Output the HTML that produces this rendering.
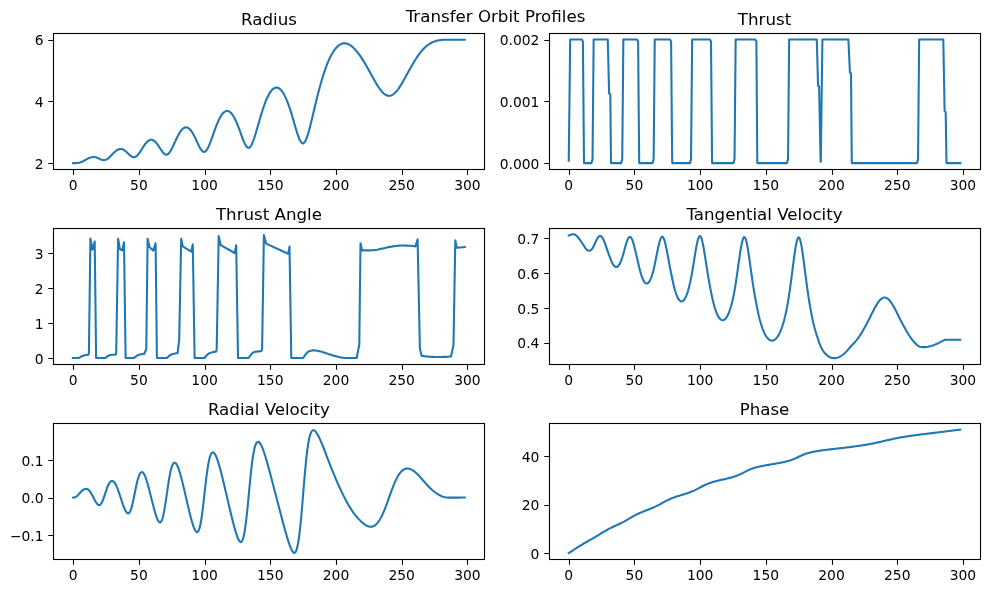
<!DOCTYPE html>
<html lang="en">
<head>
<meta charset="utf-8">
<title>Transfer Orbit Profiles</title>
<style>
html,body{margin:0;padding:0;background:#fff;}
svg{display:block;will-change:transform;}
</style>
</head>
<body>
<svg width="990" height="593" viewBox="0 0 990 593" font-family="'DejaVu Sans', 'Liberation Sans', sans-serif" fill="#000">
<rect width="990" height="593" fill="#fff"/>
<g>
<path d="M73.2 163.1 L74.18 163.1 L75.16 163.09 L76.14 163.05 L77.12 162.98 L78.09 162.85 L79.07 162.65 L80.05 162.39 L81.03 162.07 L82.01 161.68 L82.99 161.23 L83.97 160.75 L84.95 160.23 L85.93 159.7 L86.91 159.17 L87.88 158.66 L88.86 158.18 L89.84 157.76 L90.82 157.41 L91.8 157.16 L92.78 157.02 L93.76 156.99 L94.74 157.08 L95.72 157.28 L96.69 157.58 L97.67 157.96 L98.65 158.41 L99.63 158.87 L100.61 159.31 L101.59 159.68 L102.57 159.95 L103.55 160.08 L104.53 160.05 L105.5 159.83 L106.48 159.43 L107.46 158.86 L108.44 158.14 L109.42 157.29 L110.4 156.35 L111.38 155.35 L112.36 154.32 L113.34 153.31 L114.32 152.35 L115.29 151.45 L116.27 150.65 L117.25 149.98 L118.23 149.46 L119.21 149.11 L120.19 148.94 L121.17 148.95 L122.15 149.14 L123.13 149.51 L124.1 150.05 L125.08 150.73 L126.06 151.54 L127.04 152.45 L128.02 153.41 L129 154.38 L129.98 155.3 L130.96 156.1 L131.94 156.73 L132.91 157.14 L133.89 157.27 L134.87 157.11 L135.85 156.65 L136.83 155.91 L137.81 154.91 L138.79 153.69 L139.77 152.31 L140.75 150.81 L141.73 149.26 L142.7 147.7 L143.68 146.18 L144.66 144.75 L145.64 143.45 L146.62 142.31 L147.6 141.36 L148.58 140.63 L149.56 140.11 L150.54 139.83 L151.51 139.79 L152.49 139.99 L153.47 140.43 L154.45 141.09 L155.43 141.97 L156.41 143.05 L157.39 144.3 L158.37 145.69 L159.35 147.18 L160.32 148.7 L161.3 150.2 L162.28 151.59 L163.26 152.81 L164.24 153.76 L165.22 154.39 L166.2 154.64 L167.18 154.48 L168.16 153.9 L169.14 152.93 L170.11 151.6 L171.09 149.98 L172.07 148.13 L173.05 146.11 L174.03 144.01 L175.01 141.87 L175.99 139.74 L176.97 137.69 L177.95 135.74 L178.92 133.94 L179.9 132.32 L180.88 130.9 L181.86 129.7 L182.84 128.74 L183.82 128.02 L184.8 127.56 L185.78 127.36 L186.76 127.42 L187.73 127.74 L188.71 128.32 L189.69 129.14 L190.67 130.21 L191.65 131.51 L192.63 133.03 L193.61 134.73 L194.59 136.61 L195.57 138.61 L196.55 140.7 L197.52 142.83 L198.5 144.92 L199.48 146.9 L200.46 148.66 L201.44 150.13 L202.42 151.21 L203.4 151.83 L204.38 151.93 L205.36 151.49 L206.33 150.52 L207.31 149.07 L208.29 147.19 L209.27 144.99 L210.25 142.52 L211.23 139.89 L212.21 137.15 L213.19 134.38 L214.17 131.62 L215.14 128.93 L216.12 126.34 L217.1 123.89 L218.08 121.59 L219.06 119.49 L220.04 117.59 L221.02 115.91 L222 114.47 L222.98 113.26 L223.96 112.3 L224.93 111.59 L225.91 111.14 L226.89 110.95 L227.87 111.01 L228.85 111.33 L229.83 111.91 L230.81 112.74 L231.79 113.82 L232.77 115.14 L233.74 116.7 L234.72 118.49 L235.7 120.49 L236.68 122.68 L237.66 125.06 L238.64 127.59 L239.62 130.23 L240.6 132.94 L241.58 135.67 L242.55 138.33 L243.53 140.85 L244.51 143.13 L245.49 145.06 L246.47 146.56 L247.45 147.52 L248.43 147.88 L249.41 147.61 L250.39 146.71 L251.37 145.21 L252.34 143.18 L253.32 140.7 L254.3 137.87 L255.28 134.78 L256.26 131.51 L257.24 128.14 L258.22 124.72 L259.2 121.31 L260.18 117.95 L261.15 114.67 L262.13 111.51 L263.11 108.49 L264.09 105.63 L265.07 102.96 L266.05 100.47 L267.03 98.19 L268.01 96.12 L268.99 94.27 L269.96 92.63 L270.94 91.22 L271.92 90.04 L272.9 89.08 L273.88 88.36 L274.86 87.86 L275.84 87.6 L276.82 87.57 L277.8 87.77 L278.78 88.2 L279.75 88.86 L280.73 89.76 L281.71 90.88 L282.69 92.23 L283.67 93.81 L284.65 95.6 L285.63 97.62 L286.61 99.84 L287.59 102.27 L288.56 104.89 L289.54 107.7 L290.52 110.68 L291.5 113.81 L292.48 117.06 L293.46 120.4 L294.44 123.79 L295.42 127.17 L296.4 130.46 L297.37 133.6 L298.35 136.47 L299.33 138.99 L300.31 141.02 L301.29 142.49 L302.27 143.29 L303.25 143.37 L304.23 142.71 L305.21 141.34 L306.19 139.3 L307.16 136.7 L308.14 133.62 L309.12 130.16 L310.1 126.43 L311.08 122.5 L312.06 118.44 L313.04 114.32 L314.02 110.18 L315 106.07 L315.97 102.01 L316.95 98.03 L317.93 94.15 L318.91 90.38 L319.89 86.73 L320.87 83.21 L321.85 79.83 L322.83 76.59 L323.81 73.5 L324.79 70.57 L325.76 67.79 L326.74 65.18 L327.72 62.72 L328.7 60.42 L329.68 58.27 L330.66 56.28 L331.64 54.44 L332.62 52.75 L333.6 51.2 L334.57 49.81 L335.55 48.55 L336.53 47.44 L337.51 46.46 L338.49 45.62 L339.47 44.92 L340.45 44.34 L341.43 43.9 L342.41 43.58 L343.38 43.38 L344.36 43.31 L345.34 43.35 L346.32 43.51 L347.3 43.78 L348.28 44.16 L349.26 44.64 L350.24 45.22 L351.22 45.9 L352.2 46.67 L353.17 47.53 L354.15 48.48 L355.13 49.5 L356.11 50.59 L357.09 51.76 L358.07 53 L359.05 54.3 L360.03 55.67 L361.01 57.1 L361.98 58.58 L362.96 60.12 L363.94 61.71 L364.92 63.35 L365.9 65.02 L366.88 66.73 L367.86 68.47 L368.84 70.23 L369.82 72.01 L370.79 73.79 L371.77 75.57 L372.75 77.35 L373.73 79.1 L374.71 80.83 L375.69 82.52 L376.67 84.16 L377.65 85.73 L378.63 87.24 L379.61 88.66 L380.58 89.98 L381.56 91.19 L382.54 92.29 L383.52 93.25 L384.5 94.07 L385.48 94.75 L386.46 95.27 L387.44 95.63 L388.42 95.82 L389.39 95.84 L390.37 95.7 L391.35 95.39 L392.33 94.91 L393.31 94.28 L394.29 93.5 L395.27 92.58 L396.25 91.52 L397.23 90.34 L398.2 89.04 L399.18 87.65 L400.16 86.17 L401.14 84.61 L402.12 82.99 L403.1 81.32 L404.08 79.6 L405.06 77.85 L406.04 76.08 L407.02 74.3 L407.99 72.52 L408.97 70.74 L409.95 68.97 L410.93 67.23 L411.91 65.51 L412.89 63.82 L413.87 62.18 L414.85 60.57 L415.83 59.02 L416.8 57.52 L417.78 56.07 L418.76 54.69 L419.74 53.36 L420.72 52.11 L421.7 50.92 L422.68 49.8 L423.66 48.76 L424.64 47.78 L425.61 46.88 L426.59 46.04 L427.57 45.26 L428.55 44.55 L429.53 43.9 L430.51 43.31 L431.49 42.77 L432.47 42.29 L433.45 41.86 L434.43 41.48 L435.4 41.15 L436.38 40.86 L437.36 40.61 L438.34 40.4 L439.32 40.23 L440.3 40.08 L441.28 39.97 L442.26 39.89 L443.24 39.82 L444.21 39.78 L445.19 39.75 L446.17 39.74 L447.15 39.73 L448.13 39.73 L449.11 39.73 L450.09 39.74 L451.07 39.74 L452.05 39.74 L453.02 39.75 L454 39.75 L454.98 39.75 L455.96 39.75 L456.94 39.75 L457.92 39.75 L458.9 39.75 L459.88 39.75 L460.86 39.75 L461.84 39.75 L462.81 39.75 L463.79 39.75 L464.77 39.75" fill="none" stroke="#1f77b4" stroke-width="2.08" stroke-linecap="square" stroke-linejoin="round"/>
<rect x="53.5" y="33.5" width="431.0" height="136.0" fill="none" stroke="#000" stroke-width="1.1"/>
<path d="M73.5 169.5 v5.2 M139.5 169.5 v5.2 M205.5 169.5 v5.2 M270.5 169.5 v5.2 M336.5 169.5 v5.2 M402.5 169.5 v5.2 M467.5 169.5 v5.2 M53.5 163.5 h-5.2 M53.5 101.5 h-5.2 M53.5 40.5 h-5.2" stroke="#000" stroke-width="1.1" fill="none"/>
<g font-size="13.89" text-anchor="middle">
<text x="73.2" y="189.53">0</text>
<text x="138.9" y="189.53">50</text>
<text x="204.6" y="189.53">100</text>
<text x="270.3" y="189.53">150</text>
<text x="336" y="189.53">200</text>
<text x="401.7" y="189.53">250</text>
<text x="467.4" y="189.53">300</text>
</g>
<g font-size="13.89" text-anchor="end">
<text x="43.6" y="168.8">2</text>
<text x="43.6" y="107.04">4</text>
<text x="43.6" y="45.28">6</text>
</g>
<text x="268.95" y="24.9" font-size="16.67" text-anchor="middle">Radius</text>
</g>
<g>
<path d="M568.75 160.6 L570.2 39.5 L581.8 39.5 L582.9 41.5 L584 163.1 L591.4 163.1 L592.55 159.1 L593.65 39.5 L607.8 39.5 L609.1 93.4 L610.3 94.3 L611 163.1 L621.1 163.1 L622.25 159.1 L623.35 39.5 L637 39.5 L638.1 41.5 L639.2 163.1 L652.5 163.1 L653.65 159.1 L654.75 39.5 L670 39.5 L671.1 41.5 L672.2 163.1 L689.9 163.1 L691.05 159.1 L692.15 39.5 L709.9 39.5 L711 41.5 L712.1 163.1 L733.4 163.1 L734.55 159.1 L735.65 39.5 L755.3 39.5 L756.4 41.5 L757.3 163.1 L786.9 163.1 L788.05 159.1 L789.15 39.5 L816.8 39.5 L818.05 85.5 L819.1 86.1 L820.6 161.8 L820.8 161.8 L822.4 39.5 L848.4 39.5 L849.9 72.4 L851 73.05 L851.8 163.1 L916.9 163.1 L918.05 159.1 L919.15 39.5 L943.3 39.5 L944.6 110.9 L945.7 112.2 L946.5 163.1 L960.3 163.1" fill="none" stroke="#1f77b4" stroke-width="2.08" stroke-linecap="square" stroke-linejoin="round"/>
<rect x="549.5" y="33.5" width="431.0" height="136.0" fill="none" stroke="#000" stroke-width="1.1"/>
<path d="M569.5 169.5 v5.2 M634.5 169.5 v5.2 M700.5 169.5 v5.2 M766.5 169.5 v5.2 M832.5 169.5 v5.2 M897.5 169.5 v5.2 M963.5 169.5 v5.2 M549.5 163.5 h-5.2 M549.5 101.5 h-5.2 M549.5 40.5 h-5.2" stroke="#000" stroke-width="1.1" fill="none"/>
<g font-size="13.89" text-anchor="middle">
<text x="568.75" y="189.53">0</text>
<text x="634.45" y="189.53">50</text>
<text x="700.15" y="189.53">100</text>
<text x="765.85" y="189.53">150</text>
<text x="831.55" y="189.53">200</text>
<text x="897.25" y="189.53">250</text>
<text x="962.95" y="189.53">300</text>
</g>
<g font-size="13.89" text-anchor="end">
<text x="539.45" y="168.8">0.000</text>
<text x="539.45" y="107.04">0.001</text>
<text x="539.45" y="45.28">0.002</text>
</g>
<text x="764.5" y="24.9" font-size="16.67" text-anchor="middle">Thrust</text>
</g>
<g>
<path d="M72.9 358 L78.9 358 L79.9 357.35 L80.9 356.76 L81.9 356.25 L82.9 355.85 L83.9 355.57 L84.9 355.31 L85.9 355.09 L86.9 354.91 L87.9 354.82 L88.4 354.8 L88.9 353.5 L90.4 238.6 L92.4 249.8 L94.7 241.5 L96.1 358 L105.4 358 L106.4 357.16 L107.4 356.38 L108.4 355.74 L109.4 355.28 L110.4 355.05 L111.4 354.91 L112.4 354.79 L113.4 354.69 L114.4 354.63 L115.4 354.6 L115.7 354.6 L116.2 353 L118.1 238.8 L119.9 249 L122.3 250.2 L124 242.3 L125.6 358 L134 358 L135 357.14 L136 356.36 L137 355.69 L138 355.15 L139 354.8 L140 354.56 L141 354.34 L142 354.17 L143 354.05 L144 354 L144.1 354 L146.3 349 L147.6 238.8 L149.6 247.3 L153.3 250.6 L155.6 243.3 L156.9 358 L166.9 358 L167.9 357.03 L168.9 356.13 L169.9 355.35 L170.9 354.72 L171.9 354.3 L172.9 354 L173.9 353.73 L174.9 353.5 L175.9 353.32 L176.9 353.22 L177.6 353.2 L179.2 339.3 L181.2 238.7 L182.8 246.4 L191.1 251.7 L192.8 244.4 L194.6 358 L204.5 358 L205.5 356.74 L206.5 355.56 L207.5 354.53 L208.5 353.72 L209.5 353.2 L210.5 352.86 L211.5 352.54 L212.5 352.28 L213.5 352.06 L214.5 351.9 L215.5 351.81 L216.1 351.8 L216.7 349 L218.7 236.1 L220.7 245.1 L234.7 253 L236.2 245.3 L238 358 L248.6 358 L249.6 356.55 L250.6 355.18 L251.6 353.96 L252.6 352.98 L253.6 352.32 L254.6 352.01 L255.6 351.8 L256.6 351.62 L257.6 351.47 L258.6 351.35 L259.6 351.26 L260.6 351.21 L261.4 351.2 L262.1 349 L263.9 235 L266.1 243.6 L288.2 253.7 L289.5 246.6 L291.3 358 L303.2 358 L303.9 357 L304.9 355.3 L305.9 353.97 L306.9 352.88 L307.9 351.95 L308.9 351.31 L309.9 350.99 L310.9 350.73 L311.9 350.52 L312.9 350.39 L313.9 350.35 L314.9 350.4 L315.9 350.53 L316.9 350.7 L317.9 350.91 L318.9 351.12 L319.9 351.33 L320.9 351.58 L321.9 351.86 L322.9 352.17 L323.9 352.5 L324.9 352.84 L325.9 353.18 L326.9 353.52 L327.9 353.85 L328.9 354.15 L329.9 354.46 L330.9 354.78 L331.9 355.1 L332.9 355.41 L333.9 355.72 L334.9 356.01 L335.9 356.29 L336.9 356.55 L337.9 356.79 L338.9 357.02 L339.9 357.23 L340.9 357.44 L341.9 357.63 L342.9 357.8 L343.9 357.97 L344.1 358 L356.7 358 L359.3 344.5 L360.5 243.3 L362.1 250.4 L363.1 250.4 L364.1 250.4 L365.1 250.4 L366.1 250.4 L367.1 250.4 L368.1 250.4 L369.1 250.4 L370.1 250.37 L371.1 250.33 L372.1 250.26 L373.1 250.19 L374.1 250.11 L375.1 250.02 L376.1 249.91 L377.1 249.75 L378.1 249.55 L379.1 249.32 L380.1 249.09 L381.1 248.85 L382.1 248.64 L383.1 248.41 L384.1 248.17 L385.1 247.93 L386.1 247.7 L387.1 247.47 L388.1 247.26 L389.1 247.07 L390.1 246.87 L391.1 246.69 L392.1 246.51 L393.1 246.35 L394.1 246.21 L395.1 246.09 L396.1 245.97 L397.1 245.86 L398.1 245.75 L399.1 245.66 L400.1 245.59 L401.1 245.56 L402.1 245.55 L403.1 245.56 L404.1 245.57 L405.1 245.6 L406.1 245.62 L407.1 245.65 L408.1 245.69 L409.1 245.73 L410.1 245.79 L411.1 245.87 L412.1 245.98 L413.1 246.09 L414.1 246.22 L415.1 246.36 L415.4 246.4 L417.6 239.4 L419.9 348.8 L421.7 355.9 L422.7 356.03 L423.7 356.15 L424.7 356.26 L425.7 356.37 L426.7 356.47 L427.7 356.57 L428.7 356.65 L429.7 356.73 L430.7 356.8 L431.7 356.86 L432.7 356.91 L433.7 356.95 L434.7 356.98 L435.7 357 L436.7 357 L437.7 357 L438.7 356.99 L439.7 356.99 L440.7 356.98 L441.7 356.96 L442.7 356.94 L443.7 356.91 L444.7 356.88 L445.7 356.84 L446.7 356.79 L447.7 356.74 L448.7 356.68 L449.7 356.61 L450.7 356.53 L451 356.5 L453.5 345 L455.3 240.3 L456.8 247.8 L464.8 247.1" fill="none" stroke="#1f77b4" stroke-width="2.08" stroke-linecap="square" stroke-linejoin="round"/>
<rect x="53.5" y="228.5" width="431.0" height="136.0" fill="none" stroke="#000" stroke-width="1.1"/>
<path d="M73.5 364.5 v5.2 M139.5 364.5 v5.2 M205.5 364.5 v5.2 M270.5 364.5 v5.2 M336.5 364.5 v5.2 M402.5 364.5 v5.2 M467.5 364.5 v5.2 M53.5 358.5 h-5.2 M53.5 323.5 h-5.2 M53.5 288.5 h-5.2 M53.5 253.5 h-5.2" stroke="#000" stroke-width="1.1" fill="none"/>
<g font-size="13.89" text-anchor="middle">
<text x="73.2" y="384.53">0</text>
<text x="138.9" y="384.53">50</text>
<text x="204.6" y="384.53">100</text>
<text x="270.3" y="384.53">150</text>
<text x="336" y="384.53">200</text>
<text x="401.7" y="384.53">250</text>
<text x="467.4" y="384.53">300</text>
</g>
<g font-size="13.89" text-anchor="end">
<text x="43.6" y="363.8">0</text>
<text x="43.6" y="328.9">1</text>
<text x="43.6" y="294">2</text>
<text x="43.6" y="259.1">3</text>
</g>
<text x="268.95" y="219.9" font-size="16.67" text-anchor="middle">Thrust Angle</text>
</g>
<g>
<path d="M568.75 235.52 L569.73 235.28 L570.71 234.8 L571.69 234.42 L572.67 234.21 L573.64 234.21 L574.62 234.46 L575.6 234.98 L576.58 235.74 L577.56 236.75 L578.54 237.94 L579.52 239.27 L580.5 240.69 L581.48 242.14 L582.46 243.56 L583.43 245.05 L584.41 246.64 L585.39 248.13 L586.37 249.32 L587.35 250.18 L588.33 250.67 L589.31 250.77 L590.29 250.47 L591.27 249.79 L592.24 248.7 L593.22 247.08 L594.2 245.02 L595.18 242.84 L596.16 240.71 L597.14 238.8 L598.12 237.27 L599.1 236.26 L600.08 235.87 L601.05 236.17 L602.03 237.14 L603.01 238.75 L603.99 240.87 L604.97 243.39 L605.95 246.17 L606.93 249.05 L607.91 251.92 L608.89 254.66 L609.87 257.23 L610.84 259.74 L611.82 262.1 L612.8 264.07 L613.78 265.57 L614.76 266.58 L615.74 267.07 L616.72 267.04 L617.7 266.49 L618.68 265.43 L619.65 263.87 L620.63 261.85 L621.61 259.42 L622.59 256.52 L623.57 253.13 L624.55 249.46 L625.53 245.87 L626.51 242.58 L627.49 239.84 L628.46 237.88 L629.44 236.87 L630.42 236.93 L631.4 238.06 L632.38 240.19 L633.36 243.14 L634.34 246.72 L635.32 250.69 L636.3 254.85 L637.28 259.03 L638.25 263.24 L639.23 267.4 L640.21 271.24 L641.19 274.61 L642.17 277.47 L643.15 279.8 L644.13 281.57 L645.11 282.79 L646.09 283.45 L647.06 283.54 L648.04 283.07 L649.02 282.04 L650 280.45 L650.98 278.31 L651.96 275.62 L652.94 272.38 L653.92 268.44 L654.9 263.87 L655.87 258.97 L656.85 253.97 L657.83 249.1 L658.81 244.65 L659.79 240.93 L660.77 238.25 L661.75 236.86 L662.73 236.9 L663.71 238.38 L664.69 241.17 L665.66 245.02 L666.64 249.66 L667.62 254.76 L668.6 260.06 L669.58 265.34 L670.56 270.43 L671.54 275.29 L672.52 280 L673.5 284.41 L674.47 288.33 L675.45 291.72 L676.43 294.6 L677.41 296.96 L678.39 298.82 L679.37 300.17 L680.35 301.04 L681.33 301.41 L682.31 301.3 L683.28 300.71 L684.26 299.62 L685.24 298.04 L686.22 295.96 L687.2 293.36 L688.18 290.25 L689.16 286.61 L690.14 282.47 L691.12 277.82 L692.1 272.56 L693.07 266.71 L694.05 260.54 L695.03 254.39 L696.01 248.57 L696.99 243.45 L697.97 239.42 L698.95 236.86 L699.93 236.01 L700.91 236.97 L701.88 239.65 L702.86 243.79 L703.84 249.02 L704.82 254.96 L705.8 261.25 L706.78 267.61 L707.76 273.8 L708.74 279.68 L709.72 285.16 L710.69 290.21 L711.67 294.99 L712.65 299.49 L713.63 303.55 L714.61 307.12 L715.59 310.22 L716.57 312.87 L717.55 315.09 L718.53 316.9 L719.51 318.31 L720.48 319.33 L721.46 319.98 L722.44 320.26 L723.42 320.17 L724.4 319.71 L725.38 318.88 L726.36 317.67 L727.34 316.07 L728.32 314.07 L729.29 311.64 L730.27 308.78 L731.25 305.45 L732.23 301.64 L733.21 297.34 L734.19 292.49 L735.17 286.9 L736.15 280.63 L737.13 273.94 L738.1 267 L739.08 260.02 L740.06 253.3 L741.04 247.22 L742.02 242.21 L743 238.7 L743.98 237.03 L744.96 237.37 L745.94 239.69 L746.92 243.74 L747.89 249.16 L748.87 255.51 L749.85 262.38 L750.83 269.43 L751.81 276.38 L752.79 283.06 L753.77 289.36 L754.75 295.21 L755.73 300.65 L756.7 305.84 L757.68 310.74 L758.66 315.19 L759.64 319.19 L760.62 322.77 L761.6 325.96 L762.58 328.77 L763.56 331.24 L764.54 333.39 L765.51 335.23 L766.49 336.78 L767.47 338.06 L768.45 339.07 L769.43 339.83 L770.41 340.35 L771.39 340.62 L772.37 340.65 L773.35 340.45 L774.33 340 L775.3 339.3 L776.28 338.36 L777.26 337.15 L778.24 335.67 L779.22 333.91 L780.2 331.85 L781.18 329.47 L782.16 326.75 L783.14 323.66 L784.11 320.19 L785.09 316.31 L786.07 311.98 L787.05 307.18 L788.03 301.76 L789.01 295.6 L789.99 288.81 L790.97 281.59 L791.95 274.05 L792.92 266.37 L793.9 258.82 L794.88 251.75 L795.86 245.62 L796.84 240.89 L797.82 238 L798.8 237.24 L799.78 238.69 L800.76 242.18 L801.74 247.37 L802.71 253.8 L803.69 261.01 L804.67 268.58 L805.65 276.2 L806.63 283.61 L807.61 290.69 L808.59 297.33 L809.57 303.5 L810.55 309.19 L811.52 314.41 L812.5 319.18 L813.48 323.52 L814.46 327.47 L815.44 331.06 L816.42 334.31 L817.4 337.29 L818.38 340.19 L819.36 343.04 L820.34 345.67 L821.31 347.86 L822.29 349.61 L823.27 351.11 L824.25 352.44 L825.23 353.6 L826.21 354.6 L827.19 355.47 L828.17 356.2 L829.15 356.8 L830.12 357.29 L831.1 357.66 L832.08 357.93 L833.06 358.09 L834.04 358.15 L835.02 358.12 L836 357.99 L836.98 357.78 L837.96 357.48 L838.93 357.09 L839.91 356.63 L840.89 356.08 L841.87 355.45 L842.85 354.74 L843.83 353.95 L844.81 353.09 L845.79 352.15 L846.77 351.13 L847.75 350.04 L848.72 348.88 L849.7 347.64 L850.68 346.48 L851.66 345.48 L852.64 344.56 L853.62 343.56 L854.6 342.5 L855.58 341.37 L856.56 340.17 L857.53 338.9 L858.51 337.56 L859.49 336.15 L860.47 334.67 L861.45 333.13 L862.43 331.52 L863.41 329.84 L864.39 328.1 L865.37 326.31 L866.34 324.47 L867.32 322.59 L868.3 320.66 L869.28 318.72 L870.26 316.76 L871.24 314.79 L872.22 312.84 L873.2 310.92 L874.18 309.05 L875.16 307.25 L876.13 305.53 L877.11 303.92 L878.09 302.45 L879.07 301.13 L880.05 299.99 L881.03 299.05 L882.01 298.31 L882.99 297.8 L883.97 297.53 L884.94 297.49 L885.92 297.7 L886.9 298.14 L887.88 298.81 L888.86 299.7 L889.84 300.79 L890.82 302.06 L891.8 303.49 L892.78 305.06 L893.75 306.75 L894.73 308.53 L895.71 310.38 L896.69 312.29 L897.67 314.23 L898.65 316.2 L899.63 318.16 L900.61 320.11 L901.59 322.04 L902.57 323.94 L903.54 325.79 L904.52 327.6 L905.5 329.35 L906.48 331.04 L907.46 332.67 L908.44 334.24 L909.42 335.74 L910.4 337.17 L911.38 338.53 L912.35 339.82 L913.33 341.04 L914.31 342.19 L915.29 343.27 L916.27 344.28 L917.25 345.22 L918.23 346.03 L919.21 346.53 L920.19 346.78 L921.16 346.95 L922.14 347.07 L923.12 347.13 L924.1 347.15 L925.08 347.12 L926.06 347.04 L927.04 346.92 L928.02 346.76 L929 346.55 L929.98 346.32 L930.95 346.04 L931.93 345.74 L932.91 345.4 L933.89 345.04 L934.87 344.65 L935.85 344.24 L936.83 343.8 L937.81 343.35 L938.79 342.87 L939.76 342.39 L940.74 341.89 L941.72 341.38 L942.7 340.86 L943.68 340.34 L944.66 339.91 L945.64 339.72 L946.62 339.7 L947.6 339.7 L948.57 339.7 L949.55 339.7 L950.53 339.7 L951.51 339.69 L952.49 339.69 L953.47 339.69 L954.45 339.69 L955.43 339.69 L956.41 339.69 L957.39 339.7 L958.36 339.7 L959.34 339.7 L960.32 339.7" fill="none" stroke="#1f77b4" stroke-width="2.08" stroke-linecap="square" stroke-linejoin="round"/>
<rect x="549.5" y="228.5" width="431.0" height="136.0" fill="none" stroke="#000" stroke-width="1.1"/>
<path d="M569.5 364.5 v5.2 M634.5 364.5 v5.2 M700.5 364.5 v5.2 M766.5 364.5 v5.2 M832.5 364.5 v5.2 M897.5 364.5 v5.2 M963.5 364.5 v5.2 M549.5 343.5 h-5.2 M549.5 308.5 h-5.2 M549.5 273.5 h-5.2 M549.5 238.5 h-5.2" stroke="#000" stroke-width="1.1" fill="none"/>
<g font-size="13.89" text-anchor="middle">
<text x="568.75" y="384.53">0</text>
<text x="634.45" y="384.53">50</text>
<text x="700.15" y="384.53">100</text>
<text x="765.85" y="384.53">150</text>
<text x="831.55" y="384.53">200</text>
<text x="897.25" y="384.53">250</text>
<text x="962.95" y="384.53">300</text>
</g>
<g font-size="13.89" text-anchor="end">
<text x="539.45" y="348.4">0.4</text>
<text x="539.45" y="313.5">0.5</text>
<text x="539.45" y="278.6">0.6</text>
<text x="539.45" y="243.7">0.7</text>
</g>
<text x="764.5" y="219.9" font-size="16.67" text-anchor="middle">Tangential Velocity</text>
</g>
<g>
<path d="M73.2 497.6 L74.18 497.55 L75.16 497.27 L76.14 496.72 L77.12 495.94 L78.09 494.98 L79.07 493.91 L80.05 492.81 L81.03 491.75 L82.01 490.79 L82.99 489.99 L83.97 489.4 L84.95 489.04 L85.93 488.93 L86.91 489.06 L87.88 489.44 L88.86 490.17 L89.84 491.28 L90.82 492.71 L91.8 494.38 L92.78 496.2 L93.76 498.09 L94.74 499.95 L95.72 501.71 L96.69 503.26 L97.67 504.45 L98.65 505.09 L99.63 505.07 L100.61 504.35 L101.59 502.95 L102.57 500.93 L103.55 498.43 L104.53 495.58 L105.5 492.6 L106.48 489.67 L107.46 486.98 L108.44 484.68 L109.42 482.89 L110.4 481.65 L111.38 481.01 L112.36 480.94 L113.34 481.39 L114.32 482.31 L115.29 483.7 L116.27 485.57 L117.25 487.86 L118.23 490.47 L119.21 493.3 L120.19 496.27 L121.17 499.27 L122.15 502.23 L123.13 505.04 L124.1 507.62 L125.08 509.87 L126.06 511.68 L127.04 512.96 L128.02 513.51 L129 513.16 L129.98 511.8 L130.96 509.44 L131.94 506.15 L132.91 502.07 L133.89 497.44 L134.87 492.56 L135.85 487.73 L136.83 483.25 L137.81 479.37 L138.79 476.26 L139.77 474.01 L140.75 472.63 L141.73 472.09 L142.7 472.36 L143.68 473.43 L144.66 475.23 L145.64 477.64 L146.62 480.53 L147.6 483.8 L148.58 487.36 L149.56 491.11 L150.54 494.99 L151.51 498.91 L152.49 502.81 L153.47 506.61 L154.45 510.24 L155.43 513.61 L156.41 516.64 L157.39 519.22 L158.37 521.19 L159.35 522.32 L160.32 522.42 L161.3 521.37 L162.28 519.07 L163.26 515.48 L164.24 510.69 L165.22 504.89 L166.2 498.38 L167.18 491.56 L168.16 484.87 L169.14 478.7 L170.11 473.37 L171.09 469.08 L172.07 465.91 L173.05 463.85 L174.03 462.82 L175.01 462.71 L175.99 463.4 L176.97 464.84 L177.95 466.95 L178.92 469.63 L179.9 472.75 L180.88 476.22 L181.86 479.96 L182.84 483.91 L183.82 488 L184.8 492.19 L185.78 496.44 L186.76 500.69 L187.73 504.91 L188.71 509.07 L189.69 513.1 L190.67 516.96 L191.65 520.59 L192.63 523.91 L193.61 526.84 L194.59 529.28 L195.57 531.11 L196.55 532.16 L197.52 532.21 L198.5 531 L199.48 528.39 L200.46 524.26 L201.44 518.61 L202.42 511.6 L203.4 503.51 L204.38 494.81 L205.36 486.03 L206.33 477.72 L207.31 470.31 L208.29 464.12 L209.27 459.28 L210.25 455.81 L211.23 453.61 L212.21 452.54 L213.19 452.43 L214.17 453.11 L215.14 454.44 L216.12 456.36 L217.1 458.81 L218.08 461.69 L219.06 464.92 L220.04 468.41 L221.02 472.1 L222 475.96 L222.98 479.94 L223.96 484.01 L224.93 488.14 L225.91 492.32 L226.89 496.52 L227.87 500.72 L228.85 504.91 L229.83 509.07 L230.81 513.18 L231.79 517.21 L232.77 521.13 L233.74 524.91 L234.72 528.52 L235.7 531.88 L236.68 534.95 L237.66 537.64 L238.64 539.85 L239.62 541.42 L240.6 542.12 L241.58 541.74 L242.55 540.08 L243.53 536.96 L244.51 532.22 L245.49 525.83 L246.47 517.85 L247.45 508.56 L248.43 498.4 L249.41 487.97 L250.39 477.85 L251.37 468.6 L252.34 460.62 L253.32 454.11 L254.3 449.1 L255.28 445.53 L256.26 443.25 L257.24 442.07 L258.22 441.8 L259.2 442.28 L260.18 443.37 L261.15 445.01 L262.13 447.15 L263.11 449.66 L264.09 452.48 L265.07 455.52 L266.05 458.74 L267.03 462.11 L268.01 465.58 L268.99 469.14 L269.96 472.76 L270.94 476.44 L271.92 480.15 L272.9 483.89 L273.88 487.65 L274.86 491.42 L275.84 495.2 L276.82 498.98 L277.8 502.77 L278.78 506.54 L279.75 510.3 L280.73 514.05 L281.71 517.77 L282.69 521.45 L283.67 525.09 L284.65 528.67 L285.63 532.17 L286.61 535.57 L287.59 538.83 L288.56 541.93 L289.54 544.81 L290.52 547.41 L291.5 549.66 L292.48 551.45 L293.46 552.61 L294.44 552.94 L295.42 552.23 L296.4 550.28 L297.37 546.87 L298.35 541.82 L299.33 535 L300.31 526.42 L301.29 516.25 L302.27 504.88 L303.25 492.88 L304.23 480.93 L305.21 469.64 L306.19 459.55 L307.16 450.98 L308.14 444.05 L309.12 438.73 L310.1 434.87 L311.08 432.3 L312.06 430.8 L313.04 430.17 L314.02 430.26 L315 430.92 L315.97 432.01 L316.95 433.46 L317.93 435.17 L318.91 437.08 L319.89 439.15 L320.87 441.33 L321.85 443.6 L322.83 445.98 L323.81 448.48 L324.79 451.07 L325.76 453.67 L326.74 456.26 L327.72 458.81 L328.7 461.35 L329.68 463.86 L330.66 466.35 L331.64 468.8 L332.62 471.23 L333.6 473.62 L334.57 475.97 L335.55 478.29 L336.53 480.57 L337.51 482.81 L338.49 485.02 L339.47 487.18 L340.45 489.3 L341.43 491.38 L342.41 493.42 L343.38 495.41 L344.36 497.36 L345.34 499.25 L346.32 501.1 L347.3 502.88 L348.28 504.61 L349.26 506.29 L350.24 507.9 L351.22 509.44 L352.2 510.91 L353.17 512.31 L354.15 513.63 L355.13 514.88 L356.11 516.07 L357.09 517.21 L358.07 518.32 L359.05 519.39 L360.03 520.4 L361.01 521.37 L361.98 522.28 L362.96 523.12 L363.94 523.89 L364.92 524.59 L365.9 525.2 L366.88 525.72 L367.86 526.14 L368.84 526.45 L369.82 526.64 L370.79 526.7 L371.77 526.62 L372.75 526.4 L373.73 526.02 L374.71 525.47 L375.69 524.74 L376.67 523.84 L377.65 522.74 L378.63 521.46 L379.61 519.98 L380.58 518.31 L381.56 516.45 L382.54 514.41 L383.52 512.21 L384.5 509.85 L385.48 507.36 L386.46 504.77 L387.44 502.09 L388.42 499.37 L389.39 496.62 L390.37 493.88 L391.35 491.19 L392.33 488.57 L393.31 486.05 L394.29 483.65 L395.27 481.4 L396.25 479.32 L397.23 477.4 L398.2 475.68 L399.18 474.14 L400.16 472.8 L401.14 471.65 L402.12 470.7 L403.1 469.92 L404.08 469.32 L405.06 468.89 L406.04 468.62 L407.02 468.51 L407.99 468.53 L408.97 468.68 L409.95 468.96 L410.93 469.35 L411.91 469.84 L412.89 470.43 L413.87 471.1 L414.85 471.85 L415.83 472.68 L416.8 473.57 L417.78 474.51 L418.76 475.52 L419.74 476.57 L420.72 477.67 L421.7 478.8 L422.68 479.97 L423.66 481.13 L424.64 482.26 L425.61 483.37 L426.59 484.45 L427.57 485.49 L428.55 486.5 L429.53 487.48 L430.51 488.42 L431.49 489.32 L432.47 490.18 L433.45 491.01 L434.43 491.79 L435.4 492.53 L436.38 493.23 L437.36 493.88 L438.34 494.48 L439.32 495.03 L440.3 495.54 L441.28 495.99 L442.26 496.39 L443.24 496.73 L444.21 497.03 L445.19 497.26 L446.17 497.45 L447.15 497.57 L448.13 497.64 L449.11 497.66 L450.09 497.66 L451.07 497.65 L452.05 497.64 L453.02 497.64 L454 497.63 L454.98 497.62 L455.96 497.62 L456.94 497.61 L457.92 497.6 L458.9 497.6 L459.88 497.59 L460.86 497.58 L461.84 497.58 L462.81 497.57 L463.79 497.56 L464.77 497.56" fill="none" stroke="#1f77b4" stroke-width="2.08" stroke-linecap="square" stroke-linejoin="round"/>
<rect x="53.5" y="423.5" width="431.0" height="136.0" fill="none" stroke="#000" stroke-width="1.1"/>
<path d="M73.5 559.5 v5.2 M139.5 559.5 v5.2 M205.5 559.5 v5.2 M270.5 559.5 v5.2 M336.5 559.5 v5.2 M402.5 559.5 v5.2 M467.5 559.5 v5.2 M53.5 535.5 h-5.2 M53.5 498.5 h-5.2 M53.5 460.5 h-5.2" stroke="#000" stroke-width="1.1" fill="none"/>
<g font-size="13.89" text-anchor="middle">
<text x="73.2" y="579.53">0</text>
<text x="138.9" y="579.53">50</text>
<text x="204.6" y="579.53">100</text>
<text x="270.3" y="579.53">150</text>
<text x="336" y="579.53">200</text>
<text x="401.7" y="579.53">250</text>
<text x="467.4" y="579.53">300</text>
</g>
<g font-size="13.89" text-anchor="end">
<text x="43.6" y="540.81">−0.1</text>
<text x="43.6" y="503.3">0.0</text>
<text x="43.6" y="465.79">0.1</text>
</g>
<text x="268.95" y="414.9" font-size="16.67" text-anchor="middle">Radial Velocity</text>
</g>
<g>
<path d="M568.75 553.1 L569.73 552.46 L570.71 551.82 L571.69 551.17 L572.67 550.53 L573.64 549.89 L574.62 549.25 L575.6 548.61 L576.58 547.98 L577.56 547.35 L578.54 546.73 L579.52 546.12 L580.5 545.52 L581.48 544.92 L582.46 544.33 L583.43 543.75 L584.41 543.18 L585.39 542.62 L586.37 542.06 L587.35 541.51 L588.33 540.96 L589.31 540.42 L590.29 539.87 L591.27 539.32 L592.24 538.76 L593.22 538.2 L594.2 537.64 L595.18 537.06 L596.16 536.47 L597.14 535.88 L598.12 535.27 L599.1 534.67 L600.08 534.06 L601.05 533.45 L602.03 532.84 L603.01 532.25 L603.99 531.66 L604.97 531.09 L605.95 530.53 L606.93 529.98 L607.91 529.45 L608.89 528.93 L609.87 528.43 L610.84 527.94 L611.82 527.46 L612.8 526.98 L613.78 526.52 L614.76 526.06 L615.74 525.61 L616.72 525.15 L617.7 524.7 L618.68 524.24 L619.65 523.77 L620.63 523.3 L621.61 522.82 L622.59 522.32 L623.57 521.82 L624.55 521.29 L625.53 520.76 L626.51 520.2 L627.49 519.64 L628.46 519.06 L629.44 518.48 L630.42 517.9 L631.4 517.32 L632.38 516.75 L633.36 516.2 L634.34 515.66 L635.32 515.14 L636.3 514.63 L637.28 514.15 L638.25 513.69 L639.23 513.24 L640.21 512.81 L641.19 512.39 L642.17 511.99 L643.15 511.6 L644.13 511.21 L645.11 510.83 L646.09 510.46 L647.06 510.08 L648.04 509.71 L649.02 509.33 L650 508.94 L650.98 508.55 L651.96 508.15 L652.94 507.74 L653.92 507.32 L654.9 506.88 L655.87 506.41 L656.85 505.93 L657.83 505.43 L658.81 504.91 L659.79 504.38 L660.77 503.83 L661.75 503.27 L662.73 502.71 L663.71 502.15 L664.69 501.61 L665.66 501.08 L666.64 500.57 L667.62 500.08 L668.6 499.62 L669.58 499.18 L670.56 498.76 L671.54 498.36 L672.52 497.98 L673.5 497.61 L674.47 497.26 L675.45 496.93 L676.43 496.6 L677.41 496.29 L678.39 495.98 L679.37 495.67 L680.35 495.37 L681.33 495.07 L682.31 494.78 L683.28 494.48 L684.26 494.18 L685.24 493.87 L686.22 493.56 L687.2 493.24 L688.18 492.91 L689.16 492.57 L690.14 492.21 L691.12 491.84 L692.1 491.45 L693.07 491.04 L694.05 490.61 L695.03 490.15 L696.01 489.67 L696.99 489.17 L697.97 488.64 L698.95 488.11 L699.93 487.57 L700.91 487.03 L701.88 486.5 L702.86 485.98 L703.84 485.49 L704.82 485.02 L705.8 484.58 L706.78 484.16 L707.76 483.77 L708.74 483.4 L709.72 483.05 L710.69 482.72 L711.67 482.41 L712.65 482.11 L713.63 481.82 L714.61 481.55 L715.59 481.29 L716.57 481.04 L717.55 480.79 L718.53 480.55 L719.51 480.32 L720.48 480.08 L721.46 479.85 L722.44 479.62 L723.42 479.4 L724.4 479.17 L725.38 478.94 L726.36 478.7 L727.34 478.47 L728.32 478.22 L729.29 477.97 L730.27 477.72 L731.25 477.45 L732.23 477.17 L733.21 476.88 L734.19 476.58 L735.17 476.25 L736.15 475.91 L737.13 475.55 L738.1 475.16 L739.08 474.75 L740.06 474.31 L741.04 473.85 L742.02 473.37 L743 472.87 L743.98 472.36 L744.96 471.85 L745.94 471.35 L746.92 470.86 L747.89 470.39 L748.87 469.94 L749.85 469.53 L750.83 469.13 L751.81 468.77 L752.79 468.43 L753.77 468.11 L754.75 467.81 L755.73 467.53 L756.7 467.26 L757.68 467.01 L758.66 466.78 L759.64 466.55 L760.62 466.34 L761.6 466.13 L762.58 465.93 L763.56 465.74 L764.54 465.56 L765.51 465.38 L766.49 465.2 L767.47 465.03 L768.45 464.86 L769.43 464.69 L770.41 464.52 L771.39 464.35 L772.37 464.19 L773.35 464.02 L774.33 463.86 L775.3 463.69 L776.28 463.52 L777.26 463.35 L778.24 463.17 L779.22 462.99 L780.2 462.81 L781.18 462.62 L782.16 462.42 L783.14 462.22 L784.11 462.01 L785.09 461.79 L786.07 461.55 L787.05 461.31 L788.03 461.05 L789.01 460.77 L789.99 460.47 L790.97 460.15 L791.95 459.81 L792.92 459.45 L793.9 459.05 L794.88 458.63 L795.86 458.19 L796.84 457.73 L797.82 457.25 L798.8 456.77 L799.78 456.29 L800.76 455.82 L801.74 455.37 L802.71 454.94 L803.69 454.54 L804.67 454.17 L805.65 453.82 L806.63 453.49 L807.61 453.19 L808.59 452.92 L809.57 452.66 L810.55 452.42 L811.52 452.19 L812.5 451.98 L813.48 451.78 L814.46 451.59 L815.44 451.41 L816.42 451.23 L817.4 451.07 L818.38 450.91 L819.36 450.76 L820.34 450.62 L821.31 450.48 L822.29 450.34 L823.27 450.21 L824.25 450.08 L825.23 449.96 L826.21 449.84 L827.19 449.72 L828.17 449.6 L829.15 449.48 L830.12 449.37 L831.1 449.25 L832.08 449.14 L833.06 449.03 L834.04 448.91 L835.02 448.8 L836 448.69 L836.98 448.58 L837.96 448.47 L838.93 448.36 L839.91 448.25 L840.89 448.14 L841.87 448.03 L842.85 447.92 L843.83 447.8 L844.81 447.69 L845.79 447.57 L846.77 447.46 L847.75 447.34 L848.72 447.22 L849.7 447.1 L850.68 446.97 L851.66 446.85 L852.64 446.72 L853.62 446.59 L854.6 446.46 L855.58 446.33 L856.56 446.19 L857.53 446.06 L858.51 445.92 L859.49 445.78 L860.47 445.63 L861.45 445.48 L862.43 445.33 L863.41 445.18 L864.39 445.02 L865.37 444.86 L866.34 444.69 L867.32 444.52 L868.3 444.35 L869.28 444.17 L870.26 443.99 L871.24 443.8 L872.22 443.61 L873.2 443.41 L874.18 443.21 L875.16 443.01 L876.13 442.8 L877.11 442.59 L878.09 442.37 L879.07 442.16 L880.05 441.93 L881.03 441.71 L882.01 441.48 L882.99 441.25 L883.97 441.02 L884.94 440.79 L885.92 440.56 L886.9 440.34 L887.88 440.11 L888.86 439.88 L889.84 439.66 L890.82 439.44 L891.8 439.22 L892.78 439.01 L893.75 438.8 L894.73 438.59 L895.71 438.39 L896.69 438.2 L897.67 438.01 L898.65 437.82 L899.63 437.63 L900.61 437.45 L901.59 437.28 L902.57 437.11 L903.54 436.94 L904.52 436.78 L905.5 436.62 L906.48 436.46 L907.46 436.31 L908.44 436.16 L909.42 436.02 L910.4 435.87 L911.38 435.73 L912.35 435.6 L913.33 435.46 L914.31 435.33 L915.29 435.2 L916.27 435.07 L917.25 434.94 L918.23 434.81 L919.21 434.69 L920.19 434.57 L921.16 434.45 L922.14 434.32 L923.12 434.2 L924.1 434.08 L925.08 433.96 L926.06 433.84 L927.04 433.72 L928.02 433.6 L929 433.48 L929.98 433.37 L930.95 433.25 L931.93 433.13 L932.91 433.01 L933.89 432.89 L934.87 432.77 L935.85 432.65 L936.83 432.53 L937.81 432.41 L938.79 432.29 L939.76 432.17 L940.74 432.05 L941.72 431.93 L942.7 431.8 L943.68 431.68 L944.66 431.56 L945.64 431.43 L946.62 431.31 L947.6 431.19 L948.57 431.06 L949.55 430.94 L950.53 430.82 L951.51 430.69 L952.49 430.57 L953.47 430.44 L954.45 430.32 L955.43 430.2 L956.41 430.07 L957.39 429.95 L958.36 429.83 L959.34 429.7 L960.32 429.58" fill="none" stroke="#1f77b4" stroke-width="2.08" stroke-linecap="square" stroke-linejoin="round"/>
<rect x="549.5" y="423.5" width="431.0" height="136.0" fill="none" stroke="#000" stroke-width="1.1"/>
<path d="M569.5 559.5 v5.2 M634.5 559.5 v5.2 M700.5 559.5 v5.2 M766.5 559.5 v5.2 M832.5 559.5 v5.2 M897.5 559.5 v5.2 M963.5 559.5 v5.2 M549.5 553.5 h-5.2 M549.5 505.5 h-5.2 M549.5 456.5 h-5.2" stroke="#000" stroke-width="1.1" fill="none"/>
<g font-size="13.89" text-anchor="middle">
<text x="568.75" y="579.53">0</text>
<text x="634.45" y="579.53">50</text>
<text x="700.15" y="579.53">100</text>
<text x="765.85" y="579.53">150</text>
<text x="831.55" y="579.53">200</text>
<text x="897.25" y="579.53">250</text>
<text x="962.95" y="579.53">300</text>
</g>
<g font-size="13.89" text-anchor="end">
<text x="539.45" y="558.8">0</text>
<text x="539.45" y="510.4">20</text>
<text x="539.45" y="462">40</text>
</g>
<text x="764.5" y="414.9" font-size="16.67" text-anchor="middle">Phase</text>
</g>
<text x="495.5" y="21.7" font-size="16.67" text-anchor="middle">Transfer Orbit Profiles</text>
</svg>
</body>
</html>
